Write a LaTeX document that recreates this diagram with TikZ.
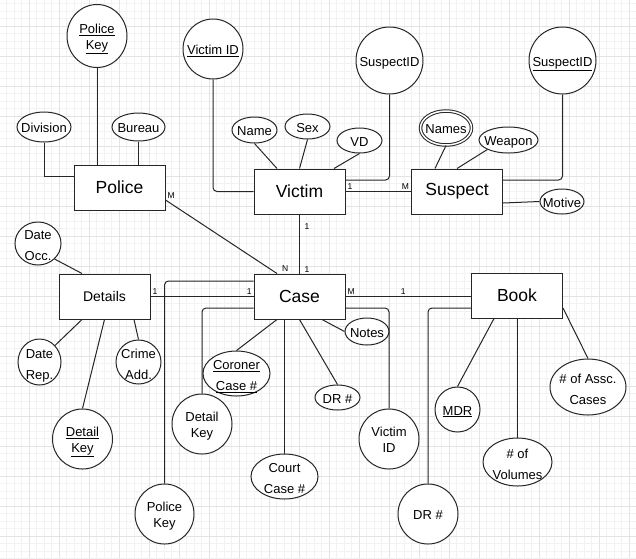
\documentclass[tikz,border=0pt]{standalone}
\usepackage{fontspec}
\setmainfont{Liberation Sans}
\usetikzlibrary{shapes.geometric}
\newcommand{\attrtext}[1]{\smash{\raisebox{-5.5pt}{\makebox[0pt]{\begin{tabular}{@{}c@{}}#1\end{tabular}}}}}

\begin{document}
\begin{tikzpicture}[x=1pt,y=-1pt,line width=1pt,
  gridminor/.style={draw=black!5, line width=0.5pt},
  gridmajor/.style={draw=black!11, line width=0.7pt},
  ent/.style={rectangle, draw=black!85, fill=white, inner sep=0,
    minimum width=91, minimum height=45, font=\fontsize{17.5}{20}\selectfont},
  attr/.style 2 args={ellipse, draw=black!85, fill=white, inner sep=0,
    minimum width=#1, minimum height=#2, font=\fontsize{13}{15.5}\selectfont},
  twoline/.style={font=\fontsize{13}{21}\selectfont},
  card/.style={font=\fontsize{8.5}{9}\selectfont, inner sep=1.5pt},
  link/.style={draw=black!85},
  elbow/.style={link, rounded corners=4}]
\useasboundingbox (0,0) rectangle (636,558);
\fill[white] (0,0) rectangle (636,558);

\foreach \i in {1,...,85}
  \draw[gridminor] ({-1+7.5*\i},0) -- ({-1+7.5*\i},558);
\foreach \j in {1,...,75}
  \draw[gridminor] (0,{-4+7.5*\j}) -- (636,{-4+7.5*\j});
\foreach \i in {1,...,21}
  \draw[gridmajor] ({-1+30*\i},0) -- ({-1+30*\i},558);
\foreach \j in {1,...,18}
  \draw[gridmajor] (0,{-4+30*\j}) -- (636,{-4+30*\j});

\node[ent] (police) at (119.5,187.5) {Police};
\node[ent] (victim) at (299.5,191.5) {Victim};
\node[ent] (suspect) at (457,191.5) {Suspect};
\node[ent] (case) at (299.5,296.5) {Case};
\node[ent, font=\fontsize{14}{16}\selectfont] (details) at (104.5,296.5) {Details};
\node[ent] (book) at (517,295.5) {Book};

\node[attr={60}{63}] (pkey) at (97,36) {\attrtext{\underline{Police}\\\underline{Key}}};
\node[attr={54}{30}] (div) at (44,127) {\attrtext{Division}};
\node[attr={53}{28}] (bureau) at (138.5,127) {\attrtext{Bureau}};
\node[attr={60}{60}] (vid) at (213,49) {\attrtext{\underline{Victim ID}}};
\node[attr={45}{26}] (name) at (254.5,130) {\attrtext{Name}};
\node[attr={45}{25}] (sex) at (307.5,126.5) {\attrtext{Sex}};
\node[attr={45}{25}] (vd) at (359.5,140.5) {\attrtext{VD}};
\node[attr={67}{67}] (sid) at (389.5,60.5) {\attrtext{SuspectID}};
\node[attr={51}{34}, double, double distance=1.5pt] (names) at (446,128) {\attrtext{Names}};
\node[attr={59}{26}] (weapon) at (508.5,140) {\attrtext{Weapon}};
\node[attr={67}{67}] (ssid) at (562.5,60.5) {\attrtext{\underline{SuspectID}}};
\node[attr={44}{25}] (motive) at (562,201.5) {\attrtext{Motive}};

\node[attr={46}{43}, twoline] (docc) at (38,243.5) {\attrtext{Date\\Occ.}};
\node[attr={43}{46}, twoline] (drep) at (39.5,362) {\attrtext{Date\\Rep.}};
\node[attr={60}{60}] (dkey) at (82.5,439) {\attrtext{\underline{Detail}\\\underline{Key}}};
\node[attr={45}{44}, twoline] (crime) at (138.5,362) {\attrtext{Crime\\Add.}};
\node[attr={59}{60}] (pkey2) at (164.5,514) {\attrtext{Police\\Key}};
\node[attr={60}{60}] (dkey2) at (202,424) {\attrtext{Detail\\Key}};
\node[attr={67}{45}, twoline] (coroner) at (236.5,373.5) {\attrtext{\underline{Coroner}\\\underline{Case \#}}};
\node[attr={67}{45}, twoline] (court) at (284.5,476.5) {\attrtext{Court\\Case \#}};
\node[attr={45}{25}] (dr) at (337.5,397.5) {\attrtext{DR \#}};
\node[attr={44}{27}] (notes) at (367,331.5) {\attrtext{Notes}};
\node[attr={60}{60}] (vid2) at (389,439) {\attrtext{Victim\\ID}};
\node[attr={60}{60}] (dr2) at (428,514) {\attrtext{DR \#}};
\node[attr={45}{45}] (mdr) at (457.5,409.5) {\attrtext{\underline{MDR}}};
\node[attr={69}{48}, twoline] (vol) at (517.5,462) {\attrtext{\# of\\Volumes}};
\node[attr={76}{56}, twoline] (assc) at (588,387) {\attrtext{\# of Assc.\\Cases}};

\draw[link] (div.south) |- ([yshift=11.5pt]police.west);
\draw[link] (pkey) -- (pkey |- police.north);
\draw[link] (bureau) -- (bureau |- police.north);
\draw[elbow] (vid) |- (victim.west);
\draw[link] (name.south) -- ([xshift=-22.5pt]victim.north);
\draw[link] (sex.south) -- (victim.north);
\draw[link] (vd.south) -- ([xshift=34.5pt]victim.north);
\draw[elbow] (sid) |- ([yshift=11.5pt]victim.east);
\draw[link] (victim.east) -- (suspect.west)
  node[card, pos=0, anchor=south west] {1} node[card, pos=1, anchor=south east] {M};
\draw[link] (names.south) -- ([xshift=-22pt]suspect.north);
\draw[link] (weapon.south west) -- (suspect.north);
\draw[elbow] (ssid) |- ([yshift=11.5pt]suspect.east);
\draw[link] ([yshift=-11.5pt]suspect.east) -- (motive.west);

\draw[link] ([yshift=-12.5pt]police.east) -- ([xshift=-22.5pt]case.north)
  node[card, pos=0, anchor=south west] {M} node[card, pos=1, anchor=south west, xshift=3pt] {N};
\draw[link] (victim.south) -- (case.north)
  node[card, pos=0.2, right, xshift=3pt] {1} node[card, pos=0.93, right, xshift=3pt] {1};
\draw[link] (docc.south east) -- ([xshift=-22.5pt]details.north);
\draw[link] (details.east) -- (case.west)
  node[card, pos=0, anchor=south west] {1} node[card, pos=1, anchor=south east] {1};
\draw[elbow] ([yshift=15.5pt]case.west) -| (pkey2);
\draw[elbow] ([yshift=-11.5pt]case.west) -| (dkey2);
\draw[link] (drep.north east) -- ([xshift=-22.5pt]details.south);
\draw[link] (dkey.north) -- (details.south);
\draw[link] (crime.north) -- ([xshift=29.5pt]details.south);

\draw[link] (coroner.north) -- ([xshift=-22.5pt]case.south);
\draw[link] (court) -- (court |- case.south);
\draw[link] (dr.north) -- (case.south);
\draw[link] ([xshift=22.5pt]case.south) -- (notes.west);
\draw[elbow] ([yshift=-11.5pt]case.east) -| (vid2);
\draw[link] (case.east) -- (case.east -| book.west)
  node[card, pos=0, anchor=south west] {M} node[card, pos=0.46, above] {1};

\draw[elbow] ([yshift=-12.5pt]book.west) -| (dr2);
\draw[link] (mdr.north) -- ([xshift=-23pt]book.south);
\draw[link] (vol) -- (vol |- book.south);
\draw[link] (assc.north) -- ([yshift=-12.5pt]book.east);
\end{tikzpicture}
\end{document}
